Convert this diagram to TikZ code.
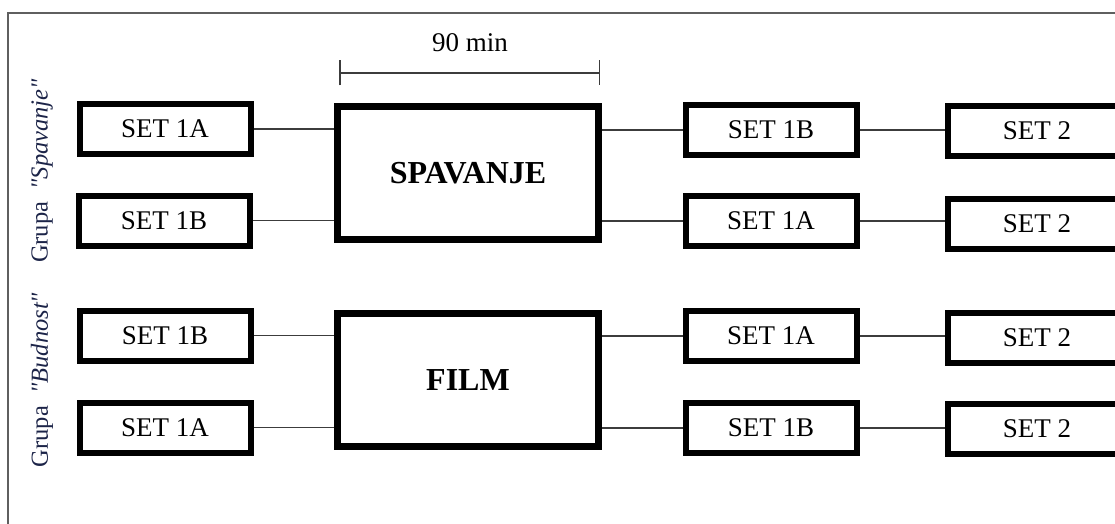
\documentclass[tikz,border=0pt]{standalone}
\usepackage{fontspec}
\setmainfont{Liberation Serif}
\newfontfamily\labelfont{Liberation Serif}[Ligatures=TeXOff]
\usepackage{xcolor}
\definecolor{framegray}{RGB}{95,95,95}
\definecolor{linkgray}{RGB}{60,60,60}
\definecolor{labelnavy}{RGB}{28,36,72}
\usepackage{tikz}
\usetikzlibrary{arrows.meta,calc}

\begin{document}
\begin{tikzpicture}[
    x=1pt, y=-1pt,
    setbox/.style={draw=black, line width=6pt, minimum width=171pt, minimum height=50pt,
                   inner sep=0pt, font=\fontsize{27}{30}\selectfont},
    lastbox/.style={setbox, minimum width=178pt},
    mainbox/.style={draw=black, line width=7pt, minimum width=261pt, minimum height=133pt,
                    inner sep=0pt, font=\fontsize{32}{36}\selectfont\bfseries},
    grouplabel/.style={rotate=90, text=labelnavy, font=\labelfont\fontsize{24.5}{28}\selectfont},
    link/.style={draw=linkgray, line width=1.5pt}
  ]

  \useasboundingbox (0,0) rectangle (1115,524);
  \clip (0,0) rectangle (1115,524);

  %% --- Frame ---
  \draw[framegray, line width=1.5pt] (8,530) -- (8,13) -- (1120,13);

  %% --- Group labels ---
  \node[grouplabel] (gspav) at (42,171) {Grupa\hspace{0.5em}\textit{"Spavanje"}};
  \node[grouplabel] (gbud)  at (42,380) {Grupa\hspace{0.5em}\textit{"Budnost"}};

  %% --- Main blocks ---
  \node[mainbox] (spav) at (468,173) {SPAVANJE};
  \node[mainbox] (film) at (468,380) {FILM};

  %% --- 90 min span ---
  \coordinate (spanL) at (339,73);
  \coordinate (spanR) at (600,73);
  \draw[link, {Bar[width=25pt]}-{Bar[width=25pt]}] (spanL) -- (spanR);
  \node[font=\fontsize{27}{30}\selectfont] (span) at (470,43) {90 min};

  %% --- Sets before ---
  \node[setbox] (l1) at (165,129)   {SET 1A};
  \node[setbox] (l2) at (164,220.5) {SET 1B};
  \node[setbox] (l3) at (165,335.5) {SET 1B};
  \node[setbox] (l4) at (165,427.5) {SET 1A};

  %% --- Sets after ---
  \node[setbox] (m1) at (771,130)   {SET 1B};
  \node[setbox] (m2) at (771,221)   {SET 1A};
  \node[setbox] (m3) at (771,336)   {SET 1A};
  \node[setbox] (m4) at (771,428)   {SET 1B};

  \node[lastbox] (r1) at (1037,131)   {SET 2};
  \node[lastbox] (r2) at (1037,223.5) {SET 2};
  \node[lastbox] (r3) at (1037,337.5) {SET 2};
  \node[lastbox] (r4) at (1037,428.5) {SET 2};

  %% --- Connections ---
  \draw[link] (l1.east) -- (l1.east -| spav.west);
  \draw[link] (l2.east) -- (l2.east -| spav.west);
  \draw[link] (l3.east) -- (l3.east -| film.west);
  \draw[link] (l4.east) -- (l4.east -| film.west);

  \draw[link] (m1.west -| spav.east) -- (m1.west);
  \draw[link] (m2.west -| spav.east) -- (m2.west);
  \draw[link] (m3.west -| film.east) -- (m3.west);
  \draw[link] (m4.west -| film.east) -- (m4.west);

  \draw[link] (m1.east) -- (m1.east -| r1.west);
  \draw[link] (m2.east) -- (m2.east -| r2.west);
  \draw[link] (m3.east) -- (m3.east -| r3.west);
  \draw[link] (m4.east) -- (m4.east -| r4.west);
\end{tikzpicture}
\end{document}
